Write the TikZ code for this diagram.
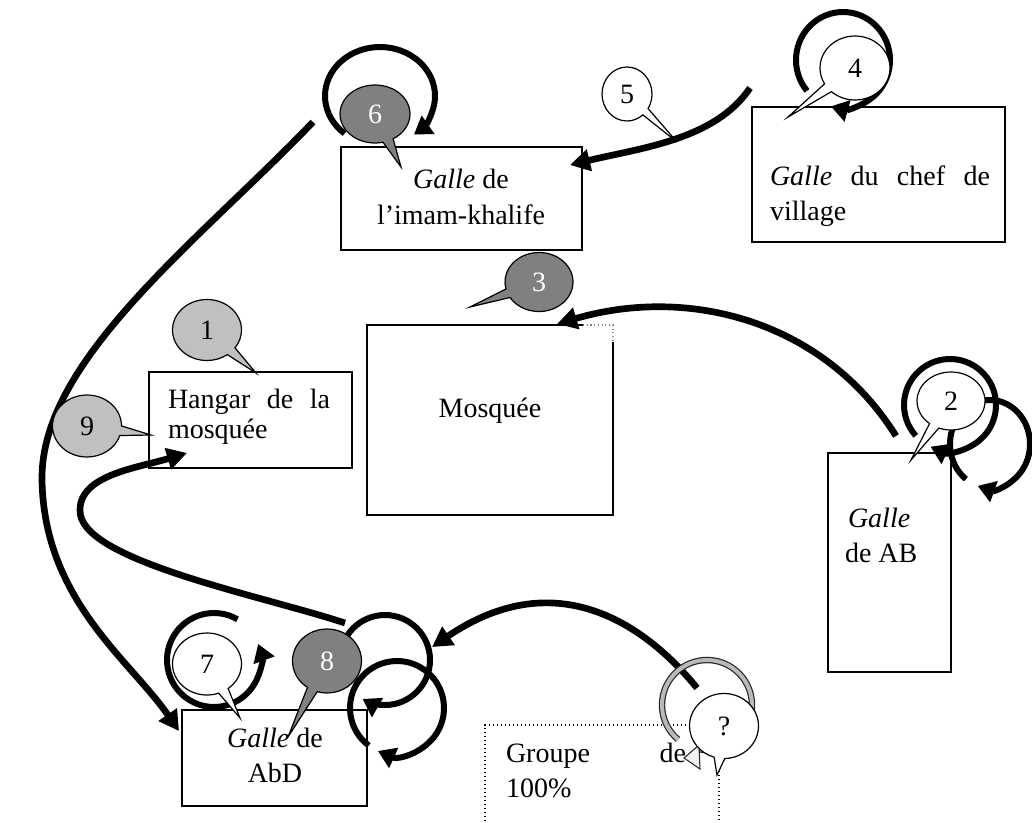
\documentclass[tikz,border=0pt]{standalone}
\usepackage{fontspec}
\setmainfont{Liberation Serif}
\usetikzlibrary{shapes.callouts,shapes.geometric,arrows.meta,calc}
\definecolor{bdark}{HTML}{808080}
\definecolor{blight}{HTML}{C0C0C0}
\newcommand\myfs{\fontsize{21pt}{25pt}\selectfont}
\begin{document}
\begin{tikzpicture}[x=0.75pt,y=-0.75pt,
  box/.style={draw, line width=1.1pt, inner sep=0pt, outer sep=0pt},
  txt/.style={inner sep=0pt, outer sep=0pt, font=\myfs},
  conn/.style={line width=5pt, -{Triangle[length=15pt,width=16pt]}},
  loopl/.style={line width=4.5pt, -{Triangle[length=13pt,width=16pt]}},
  bub/.style={ellipse callout, draw, line width=0.9pt, inner sep=0pt, callout pointer arc=18, font=\myfs},
  bubd/.style={bub, fill=bdark, text=white},
  bubl/.style={bub, fill=blight},
  bubw/.style={bub, fill=white}]
\useasboundingbox (0,0) rectangle (1032,822);
\clip (0,0) rectangle (1032,822);
% boxes
\node[box, minimum width=180.75pt, minimum height=77.25pt] (imam) at (461.5,198.5) {};
\node[box, minimum width=189.75pt, minimum height=101.25pt] (chef) at (878.5,174.5) {};
\node[box, minimum width=152.25pt, minimum height=72pt] (hangar) at (250.5,420) {};
\node[inner sep=0pt, outer sep=0pt, minimum width=184.5pt, minimum height=142.5pt] (mosq) at (490,420) {};
\draw[line width=1.1pt] ($(mosq.north east)+(-30,0)$) -- (mosq.north west) -- (mosq.south west) -- (mosq.south east) -- ($(mosq.north east)+(0,17)$);
\draw[gray, dotted, line width=0.8pt] ($(mosq.north east)+(-30,0)$) -- (mosq.north east) -- ($(mosq.north east)+(0,17)$);
\node[box, minimum width=92.25pt, minimum height=164.25pt] (ab) at (889.5,562.5) {};
\node[box, minimum width=138.75pt, minimum height=72pt] (abd) at (274.5,758) {};
\node[draw, dotted, line width=1pt, inner sep=0pt, minimum width=175.5pt, minimum height=93.75pt] (grp) at (602,787.5) {};
% texts
\node[txt, anchor=base] (t1) at (461,188) {\textit{Galle} de};
\node[txt, anchor=base] (t2) at (461,224) {l’imam-khalife};
\node[txt, anchor=base west] (t3) at (770,185) {\makebox[165pt][s]{\textit{Galle} du chef de}};
\node[txt, anchor=base west] (t4) at (770,220) {village};
\node[txt, anchor=base west] (t5) at (168,408) {\makebox[121.5pt][s]{Hangar de la}};
\node[txt, anchor=base west] (t6) at (168,438) {mosquée};
\node[txt, anchor=base] (t7) at (490,417) {Mosquée};
\node[txt, anchor=base west] (t8) at (848,527) {\textit{Galle}};
\node[txt, anchor=base west] (t9) at (845,562) {de AB};
\node[txt, anchor=base] (t10) at (275,747) {\textit{Galle} de};
\node[txt, anchor=base] (t11) at (275,782) {AbD};
\node[txt, anchor=base west] (t12) at (506,762) {\makebox[135pt][s]{Groupe de}};
\node[txt, anchor=base west] (t13) at (506,797) {100\%};
% connectors
\coordinate (a5s) at (750,88); \coordinate (a5e) at (570,165);
\draw[conn] (a5s) .. controls (715,140) and (640,148) .. (a5e);
\coordinate (a3s) at (896,436); \coordinate (a3e) at (557,324);
\draw[conn] (a3s) .. controls (825,322) and (690,285) .. (a3e);
\coordinate (a6s) at (313,122); \coordinate (a6m) at (42,480); \coordinate (a6e) at (179,731);
\draw[conn] (a6s) .. controls (200,240) and (40,360) .. (a6m) .. controls (44,600) and (130,660) .. (a6e);
\coordinate (a9s) at (345,623); \coordinate (a9m) at (80,510); \coordinate (a9e) at (187,453);
\draw[conn] (a9s) .. controls (260,595) and (78,560) .. (a9m) .. controls (80,475) and (137,468) .. (a9e);
\coordinate (aqs) at (697,688); \coordinate (aqe) at (432,647);
\draw[conn] (aqs) .. controls (650,630) and (560,560) .. (aqe);
% loops
\coordinate (c6) at (380,96);
\draw[loopl] ([shift={(-230:55 and 49)}]c6) arc[start angle=-230, end angle=52, x radius=55, y radius=49];
\coordinate (c4) at (843,60);
\draw[loopl] ([shift={(-220:47 and 48)}]c4) arc[start angle=-220, end angle=105, x radius=47, y radius=48];
\coordinate (cA) at (950,405);
\draw[loopl] ([shift={(-222:46 and 46)}]cA) arc[start angle=-222, end angle=115, x radius=46, y radius=46];
\coordinate (cB) at (990,444);
\draw[loopl] ([shift={(-233:40 and 44)}]cB) arc[start angle=-233, end angle=108, x radius=40, y radius=44];
\coordinate (c8a) at (385,660);
\draw[loopl] ([shift={(-180:45 and 45)}]c8a) arc[start angle=-180, end angle=120, x radius=45, y radius=45];
\coordinate (c8b) at (397,708);
\draw[loopl] ([shift={(-233:47 and 47)}]c8b) arc[start angle=-233, end angle=114, x radius=47, y radius=47];
\coordinate (c7) at (214,660);
\draw[loopl] ([shift={(-60:47 and 47)}]c7) arc[start angle=-60, end angle=-380, x radius=47, y radius=47];
\coordinate (cq) at (707,705);
\draw[draw=black!85, double=gray!55, double distance=3pt, line width=0.9pt] ([shift={(-230:45 and 45)}]cq) arc[start angle=-230, end angle=100, x radius=45, y radius=45];
\draw[fill=gray!12, draw=black!85, line width=0.8pt] (684,758) -- (699,745) -- (700,769) -- cycle;
% bubbles
\node[bubd, minimum width=52.5pt, minimum height=43.5pt, callout absolute pointer={(401,167)}] (b6) at (375,114) {6};
\node[bubw, minimum width=52.5pt, minimum height=48pt, callout absolute pointer={(788,117)}] (b4) at (855,68) {4};
\node[bubw, minimum width=37.5pt, minimum height=40.5pt, callout absolute pointer={(677,142)}] (b5) at (627,94) {5};
\node[bubd, minimum width=51pt, minimum height=44.25pt, callout absolute pointer={(470,307)}] (b3) at (539,282) {3};
\node[bubl, minimum width=51.75pt, minimum height=45.75pt, callout absolute pointer={(256,373)}] (b1) at (207,330) {1};
\node[bubl, minimum width=51.75pt, minimum height=46.5pt, callout absolute pointer={(151,435)}] (b9) at (87,426) {9};
\node[bubw, minimum width=51pt, minimum height=43.5pt, callout absolute pointer={(911,460)}] (b2) at (951,401) {2};
\node[bubw, minimum width=51.75pt, minimum height=46.5pt, callout absolute pointer={(240,718)}] (b7) at (207,664) {7};
\node[bubd, minimum width=51.75pt, minimum height=48pt, callout absolute pointer={(288,737)}] (b8) at (327,661) {8};
\node[bubw, minimum width=51.75pt, minimum height=48.75pt, callout absolute pointer={(717,775)}] (bq) at (724,726) {?};
\end{tikzpicture}
\end{document}
